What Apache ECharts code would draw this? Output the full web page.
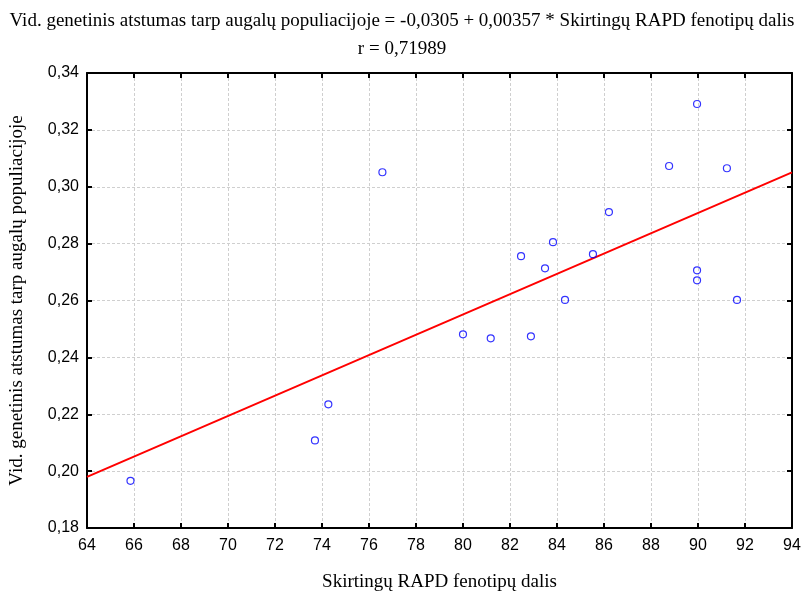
<!DOCTYPE html>
<html><head><meta charset="utf-8">
<script src="https://cdn.jsdelivr.net/npm/echarts@6/dist/echarts.min.js"></script>
<style>html,body{margin:0;padding:0;background:#fff}#c{width:804px;height:594px}</style>
</head><body><div id="c"></div>
<script>
const xValues = [65.85, 73.70, 74.27, 76.57, 80.00, 81.18, 82.47, 82.89, 83.49, 83.83, 84.34, 85.53, 86.21, 88.77, 89.96, 89.96, 89.96, 91.23, 91.66];
const yValues = [0.1966, 0.2108, 0.2235, 0.3051, 0.2481, 0.2467, 0.2756, 0.2474, 0.2713, 0.2805, 0.2602, 0.2763, 0.2911, 0.3073, 0.3291, 0.2706, 0.2671, 0.3065, 0.2602];
const intercept = -0.0305, slope = 0.00357;
const xRange = [64, 94];
const titleText = 'Vid. genetinis atstumas tarp augalų populiacijoje = -0,0305 + 0,00357 * Skirtingų RAPD fenotipų dalis\nr = 0,71989';
const xName = 'Skirtingų RAPD fenotipų dalis';
const yName = 'Vid. genetinis atstumas tarp augalų populiacijoje';

const points = xValues.map((x, i) => [x, yValues[i]]);
const fitLine = xRange.map(x => [x, intercept + slope * x]);
const serif = '"Liberation Serif", "DejaVu Serif", serif';
const sans = '"Liberation Sans", Arial, sans-serif';
const axisLine = {show: true, lineStyle: {color: '#000', width: 2}};
const tick = {show: true, inside: true, length: 5, lineStyle: {color: '#000', width: 2}};
const grid = {show: true, lineStyle: {color: '#cfcfcf', type: [3, 2], width: 1}};

const chart = echarts.init(document.getElementById('c'), null, {renderer: 'canvas'});
chart.setOption({
  animation: false,
  backgroundColor: '#fff',
  title: {text: titleText, left: 'center', top: 2,
    textStyle: {fontFamily: serif, fontSize: 19, fontWeight: 'normal', color: '#000', lineHeight: 28}},
  grid: {left: 87, right: 12, top: 73, bottom: 66, containLabel: false, outerBoundsMode: 'none'},
  xAxis: [
    {type: 'value', min: 64, max: 94, interval: 2, position: 'bottom',
     name: xName, nameLocation: 'middle', nameGap: 45,
     nameTextStyle: {fontFamily: serif, fontSize: 19, color: '#000'},
     axisLine, axisTick: tick, splitLine: grid,
     axisLabel: {fontFamily: sans, fontSize: 16, color: '#000', margin: 10}},
    {type: 'value', min: 64, max: 94, interval: 2, position: 'top',
     axisLine, axisTick: tick, splitLine: {show: false}, axisLabel: {show: false}}
  ],
  yAxis: [
    {type: 'value', min: 0.18, max: 0.34, interval: 0.02, position: 'left',
     name: yName, nameLocation: 'middle', nameGap: 60, nameRotate: 90,
     nameTextStyle: {fontFamily: serif, fontSize: 19, color: '#000'},
     axisLine, axisTick: tick, splitLine: grid,
     axisLabel: {fontFamily: sans, fontSize: 16, color: '#000', margin: 8,
       formatter: v => v.toFixed(2).replace('.', ',')}},
    {type: 'value', min: 0.18, max: 0.34, interval: 0.02, position: 'right',
     axisLine, axisTick: tick, splitLine: {show: false}, axisLabel: {show: false}}
  ],
  series: [
    {type: 'line', data: fitLine, showSymbol: false, symbol: 'none',
     lineStyle: {color: '#ff0000', width: 2}, z: 3},
    {type: 'scatter', data: points, symbol: 'circle', symbolSize: 7,
     itemStyle: {color: 'rgba(0,0,0,0)', borderColor: '#0000ff', borderWidth: 1.2}, z: 4}
  ]
});
</script></body></html>
